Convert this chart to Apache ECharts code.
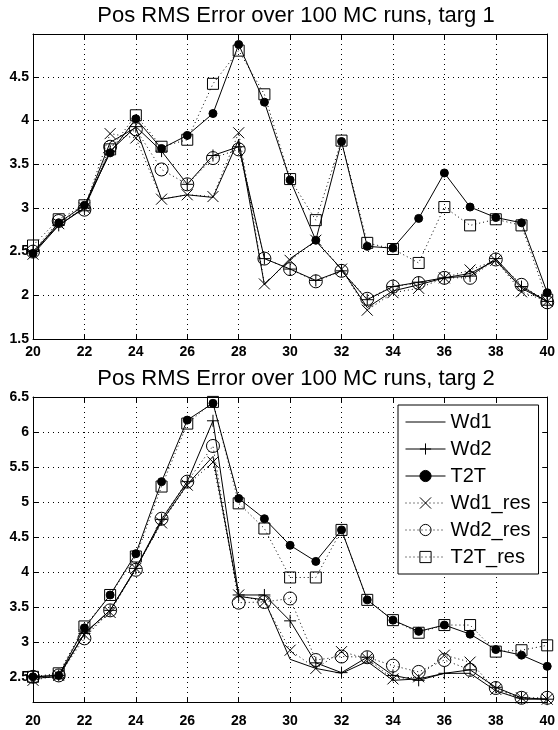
<!DOCTYPE html>
<html><head><meta charset="utf-8">
<script src="https://cdn.jsdelivr.net/npm/echarts@6/dist/echarts.min.js"></script>
<style>html,body{margin:0;padding:0;background:#fff}#c{width:558px;height:730px}</style>
</head><body><div id="c"></div>
<script>
// ---- data ----
const xs = [20,21,22,23,24,25,26,27,28,29,30,31,32,33,34,35,36,37,38,39,40];
const xTicks = [20,22,24,26,28,30,32,34,36,38,40];
const yTicks1 = [1.5,2,2.5,3,3.5,4,4.5];
const yTicks2 = [2.5,3,3.5,4,4.5,5,5.5,6,6.5];
const names = ['Wd1','Wd2','T2T','Wd1_res','Wd2_res','T2T_res'];
const title1 = 'Pos RMS Error over 100 MC runs, targ 1';
const title2 = 'Pos RMS Error over 100 MC runs, targ 2';

// targ 1
const t1Wd1    = [2.47,2.80,3.00,3.75,3.92,3.10,3.15,3.12,3.78,2.12,2.42,2.62,2.30,1.86,2.05,2.12,2.20,2.25,2.40,2.08,1.93];
const t1Wd2    = [2.50,2.80,3.00,3.65,3.93,3.65,3.27,3.60,3.70,2.42,2.30,2.17,2.28,1.95,2.10,2.15,2.20,2.22,2.42,2.10,1.93];
const t1T2T    = [2.48,2.83,3.03,3.63,4.02,3.68,3.83,4.08,4.87,4.21,3.32,2.63,3.76,2.56,2.54,2.88,3.40,3.01,2.89,2.83,2.03];
const t1Wd1res = [2.47,2.82,3.00,3.85,3.80,3.10,3.15,3.13,3.86,2.13,2.40,2.63,2.30,1.83,2.03,2.08,2.20,2.29,2.40,2.04,1.93];
const t1Wd2res = [2.50,2.85,2.98,3.70,3.90,3.44,3.27,3.57,3.67,2.42,2.30,2.16,2.28,1.96,2.10,2.14,2.20,2.20,2.41,2.12,1.92];
const t1T2Tres = [2.57,2.87,3.03,3.67,4.06,3.70,3.78,4.42,4.80,4.30,3.33,2.86,3.77,2.60,2.53,2.37,3.01,2.80,2.87,2.80,1.95];
// targ 2
const t2Wd1    = [2.48,2.50,3.12,3.45,4.05,4.72,5.25,5.65,3.65,3.60,2.75,2.62,2.55,2.72,2.45,2.47,2.55,2.55,2.30,2.18,2.18];
const t2Wd2    = [2.50,2.52,3.12,3.45,4.05,4.75,5.29,6.16,3.67,3.67,3.30,2.70,2.56,2.78,2.52,2.45,2.55,2.60,2.35,2.20,2.18];
const t2T2T    = [2.50,2.52,3.20,3.67,4.26,5.29,6.17,6.41,5.05,4.76,4.38,4.15,4.60,3.60,3.31,3.15,3.24,3.11,2.89,2.81,2.65];
const t2Wd1res = [2.45,2.52,3.10,3.42,4.05,4.70,5.24,5.57,3.67,3.57,2.88,2.62,2.86,2.76,2.47,2.50,2.81,2.71,2.32,2.20,2.18];
const t2Wd2res = [2.50,2.52,3.05,3.45,4.03,4.76,5.29,5.80,3.56,3.57,3.62,2.74,2.79,2.78,2.66,2.57,2.74,2.60,2.34,2.20,2.20];
const t2T2Tres = [2.50,2.55,3.22,3.67,4.22,5.22,6.12,6.43,4.98,4.62,3.92,3.92,4.60,3.60,3.31,3.13,3.24,3.24,2.86,2.88,2.95];

const plot1 = [t1Wd1,t1Wd2,t1T2T,t1Wd1res,t1Wd2res,t1T2Tres];
const plot2 = [t2Wd1,t2Wd2,t2T2T,t2Wd1res,t2Wd2res,t2T2Tres];

// ---- styles ----
const FONT = '"Liberation Sans", Arial, Helvetica, sans-serif';
const CLEAR = 'rgba(0,0,0,0)';
const styles = {
  'Wd1':     {symbol:'path://M0,0L0,0M10,10L10,10', size:11, show:false, dash:'solid', fill:CLEAR},
  'Wd2':     {symbol:'path://M5,0L5,10M0,5L10,5', size:12, show:true, dash:'solid', fill:CLEAR},
  'T2T':     {symbol:'circle', size:8, show:true, dash:'solid', fill:'#000'},
  'Wd1_res': {symbol:'path://M0,0L10,10M0,10L10,0', size:11, show:true, dash:[1,3], fill:CLEAR},
  'Wd2_res': {symbol:'circle', size:13, show:true, dash:[1,3], fill:CLEAR},
  'T2T_res': {symbol:'rect', size:11, show:true, dash:[1,3], fill:CLEAR}
};

function mkSeries(arrs, gi) {
  return arrs.map((vals, k) => {
    const s = styles[names[k]];
    return {
      type:'line', name:names[k], xAxisIndex:gi, yAxisIndex:gi,
      data: xs.map((x,i) => [x, vals[i]]),
      symbol: s.symbol, symbolSize: s.size, showSymbol: s.show,
      lineStyle:{color:'#000', width:1, type:s.dash},
      itemStyle:{color:s.fill, borderColor:'#000', borderWidth:1},
      emphasis:{disabled:true}, z: 2 + k
    };
  });
}

const dotted = {show:true, lineStyle:{color:'#000', width:1, type:[1,4]}};
function xAxes(gi) {
  return [
    {gridIndex:gi, type:'value', min:20, max:40, interval:2, position:'bottom',
     axisLine:{show:true, onZero:false, lineStyle:{color:'#000', width:1}},
     axisTick:{show:true, inside:true, length:5, lineStyle:{color:'#000'}},
     axisLabel:{color:'#000', fontFamily:FONT, fontSize:14, fontWeight:'bold', margin: gi===0 ? 6 : 12},
     splitLine:dotted},
    {gridIndex:gi, type:'value', min:20, max:40, interval:2, position:'top',
     axisLine:{show:true, onZero:false, lineStyle:{color:'#000', width:1}},
     axisTick:{show:true, inside:true, length:5, lineStyle:{color:'#000'}},
     axisLabel:{show:false}, splitLine:{show:false}}
  ];
}
function yAxes(gi, min, max, ticks) {
  return [
    {gridIndex:gi, type:'value', min:min, max:max, position:'left',
     axisLine:{show:true, onZero:false, lineStyle:{color:'#000', width:1}},
     axisTick:{show:true, inside:true, length:5, customValues:ticks, lineStyle:{color:'#000'}},
     axisLabel:{color:'#000', fontFamily:FONT, fontSize:14, fontWeight:'bold', margin:4, customValues:ticks},
     splitLine:dotted},
    {gridIndex:gi, type:'value', min:min, max:max, position:'right',
     axisLine:{show:true, onZero:false, lineStyle:{color:'#000', width:1}},
     axisTick:{show:true, inside:true, length:5, customValues:ticks, lineStyle:{color:'#000'}},
     axisLabel:{show:false}, splitLine:{show:false}}
  ];
}

const xa = xAxes(0).concat(xAxes(1));
const ya = yAxes(0, 1.5, 4.99, yTicks1).concat(yAxes(1, 2.14, 6.5, yTicks2));
const s1 = mkSeries(plot1, 0);
const s2 = mkSeries(plot2, 2);

const chart = echarts.init(document.getElementById('c'), null, {renderer:'canvas'});
chart.setOption({
  animation:false,
  backgroundColor:'#fff',
  title:[
    {text:title1, left:291, top:0, textAlign:'center',
     textStyle:{fontFamily:FONT, fontSize:22, fontWeight:'normal', color:'#000'}},
    {text:title2, left:291, top:363, textAlign:'center',
     textStyle:{fontFamily:FONT, fontSize:22, fontWeight:'normal', color:'#000'}}
  ],
  grid:[
    {left:33, right:9, top:34, height:305},
    {left:33, right:9, top:397, height:305}
  ],
  xAxis: xa,
  yAxis: ya,
  legend:{
    data:names, orient:'vertical', left:398, top:405,
    itemWidth:40, itemHeight:14, itemGap:7,
    padding:[7,8,7,7],
    backgroundColor:'#fff', borderColor:'#000', borderWidth:1, borderRadius:0,
    itemStyle:{borderWidth:1},
    lineStyle:{width:1},
    textStyle:{fontFamily:FONT, fontSize:20, color:'#000', lineHeight:20},
    selectedMode:false
  },
  series: s1.concat(s2)
});
</script></body></html>
